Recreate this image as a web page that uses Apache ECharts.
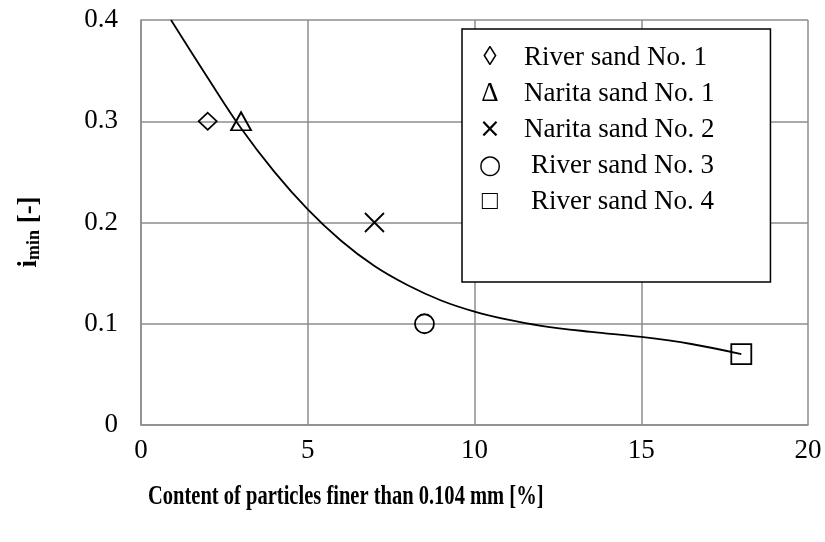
<!DOCTYPE html>
<html>
<head>
<meta charset="utf-8">
<script src="https://cdn.jsdelivr.net/npm/echarts@6/dist/echarts.min.js"></script>
<style>
  html, body { margin: 0; padding: 0; background: #fff; }
  #chart { width: 825px; height: 542px; }
</style>
</head>
<body>
<div id="chart"></div>
<script>
// Sand samples: fines content [%] vs. minimum hydraulic gradient i_min [-]
const sampleNames = ['River sand No. 1', 'Narita sand No. 1', 'Narita sand No. 2', 'River sand No. 3', 'River sand No. 4'];
const legendGlyphs = ['◊', 'Δ', '×', '○', '□'];
const finesContent = [2, 3, 7, 8.5, 18];
const iMinValues = [0.3, 0.3, 0.2, 0.1, 0.07];

// Fitted trend curve
const trendX = [0.9, 2, 3, 4, 5, 6, 7, 8, 9, 10, 11, 12, 13.5, 15, 16.5, 18];
const trendY = [0.400, 0.343, 0.293, 0.250, 0.213, 0.182, 0.157, 0.138, 0.123, 0.112, 0.104, 0.098, 0.092, 0.087, 0.080, 0.070];

// Axis ranges
const xAxisRange = { min: 0, max: 20, interval: 5 };
const yAxisRange = { min: 0, max: 0.4, interval: 0.1 };

const FONT = '"Liberation Serif", "Times New Roman", serif';
const GRID_GRAY = '#8c8c8c';

// Marker shapes per sample
const markerShapes = [
  { symbol: 'diamond', size: [18, 17] },
  { symbol: 'triangle', size: [20, 18] },
  { symbol: 'path://M0,0L10,10M10,0L0,10', size: [19, 19] },
  { symbol: 'circle', size: 19 },
  { symbol: 'rect', size: 20 }
];

// Legend glyph fonts (geometric shapes come out larger in DejaVu Sans)
const glyphFonts = [
  { family: FONT, size: 27 },
  { family: FONT, size: 27 },
  { family: '"DejaVu Sans"', size: 26 },
  { family: '"DejaVu Sans"', size: 26 },
  { family: FONT, size: 27 }
];

const sampleSeries = sampleNames.map((name, i) => ({
  name: name,
  type: 'scatter',
  data: [[finesContent[i], iMinValues[i]]],
  symbol: markerShapes[i].symbol,
  symbolSize: markerShapes[i].size,
  itemStyle: { color: 'rgba(0,0,0,0)', borderColor: '#000', borderWidth: 1.8, opacity: 1 },
  emphasis: { disabled: true },
  z: 3
}));

const trendSeries = {
  name: 'trend',
  type: 'line',
  data: trendX.map((x, i) => [x, trendY[i]]),
  smooth: 0.4,
  showSymbol: false,
  symbol: 'none',
  lineStyle: { color: '#000', width: 1.8 },
  emphasis: { disabled: true },
  z: 2
};

const richStyles = {
  t: { fontFamily: FONT, fontSize: 27, color: '#000', padding: [0, 0, 0, 21], lineHeight: 30 },
  u: { fontFamily: FONT, fontSize: 27, color: '#000', padding: [0, 0, 0, 28], lineHeight: 30 }
};
glyphFonts.forEach((gf, k) => {
  richStyles['g' + k] = { fontFamily: gf.family, fontSize: gf.size, color: '#000', width: 26, align: 'center', lineHeight: 30 };
});

const chart = echarts.init(document.getElementById('chart'), null, { renderer: 'canvas' });

chart.setOption({
  animation: false,
  backgroundColor: '#fff',
  grid: { left: 141, top: 20, right: 17, bottom: 117, containLabel: false },
  xAxis: {
    type: 'value',
    min: xAxisRange.min, max: xAxisRange.max, interval: xAxisRange.interval,
    axisLine: { show: true, lineStyle: { color: GRID_GRAY, width: 1.5 } },
    axisTick: { show: false },
    splitLine: { show: true, lineStyle: { color: GRID_GRAY, width: 1.5 } },
    axisLabel: { color: '#000', fontFamily: FONT, fontSize: 27, margin: 12 }
  },
  yAxis: {
    type: 'value',
    min: yAxisRange.min, max: yAxisRange.max, interval: yAxisRange.interval,
    axisLine: { show: true, lineStyle: { color: GRID_GRAY, width: 1.5 } },
    axisTick: { show: false },
    splitLine: { show: true, lineStyle: { color: GRID_GRAY, width: 1.5 } },
    axisLabel: { color: '#000', fontFamily: FONT, fontSize: 27, margin: 23 }
  },
  legend: {
    data: sampleNames,
    orient: 'vertical',
    left: 462,
    top: 29,
    icon: 'none',
    itemWidth: 0,
    itemHeight: 30,
    itemGap: 6,
    selectedMode: false,
    backgroundColor: '#fff',
    borderColor: '#000',
    borderWidth: 1.5,
    borderRadius: 0,
    padding: [14, 56, 65, 10],
    formatter: function (name) {
      const k = sampleNames.indexOf(name);
      return '{g' + k + '|' + legendGlyphs[k] + '}{' + (k >= 3 ? 'u' : 't') + '|' + name + '}';
    },
    textStyle: {
      fontFamily: FONT, fontSize: 27, color: '#000', lineHeight: 30,
      rich: richStyles
    }
  },
  graphic: [
    {
      type: 'text',
      x: 148,
      y: 497,
      scaleX: 0.76,
      style: {
        text: 'Content of particles finer than 0.104 mm [%]',
        font: 'bold 27px ' + FONT,
        fill: '#000',
        align: 'left',
        verticalAlign: 'middle'
      }
    },
    {
      type: 'text',
      x: 28,
      y: 232,
      rotation: Math.PI / 2,
      style: {
        text: '{b|i}{s|min}{b| [-]}',
        align: 'center',
        verticalAlign: 'middle',
        fill: '#000',
        rich: {
          b: { fontFamily: FONT, fontWeight: 'bold', fontSize: 27, lineHeight: 30, verticalAlign: 'bottom', fill: '#000' },
          s: { fontFamily: FONT, fontWeight: 'bold', fontSize: 18, lineHeight: 30, verticalAlign: 'bottom', padding: [10, 0, 0, 0], fill: '#000' }
        }
      }
    }
  ],
  series: [trendSeries].concat(sampleSeries)
});
</script>
</body>
</html>
